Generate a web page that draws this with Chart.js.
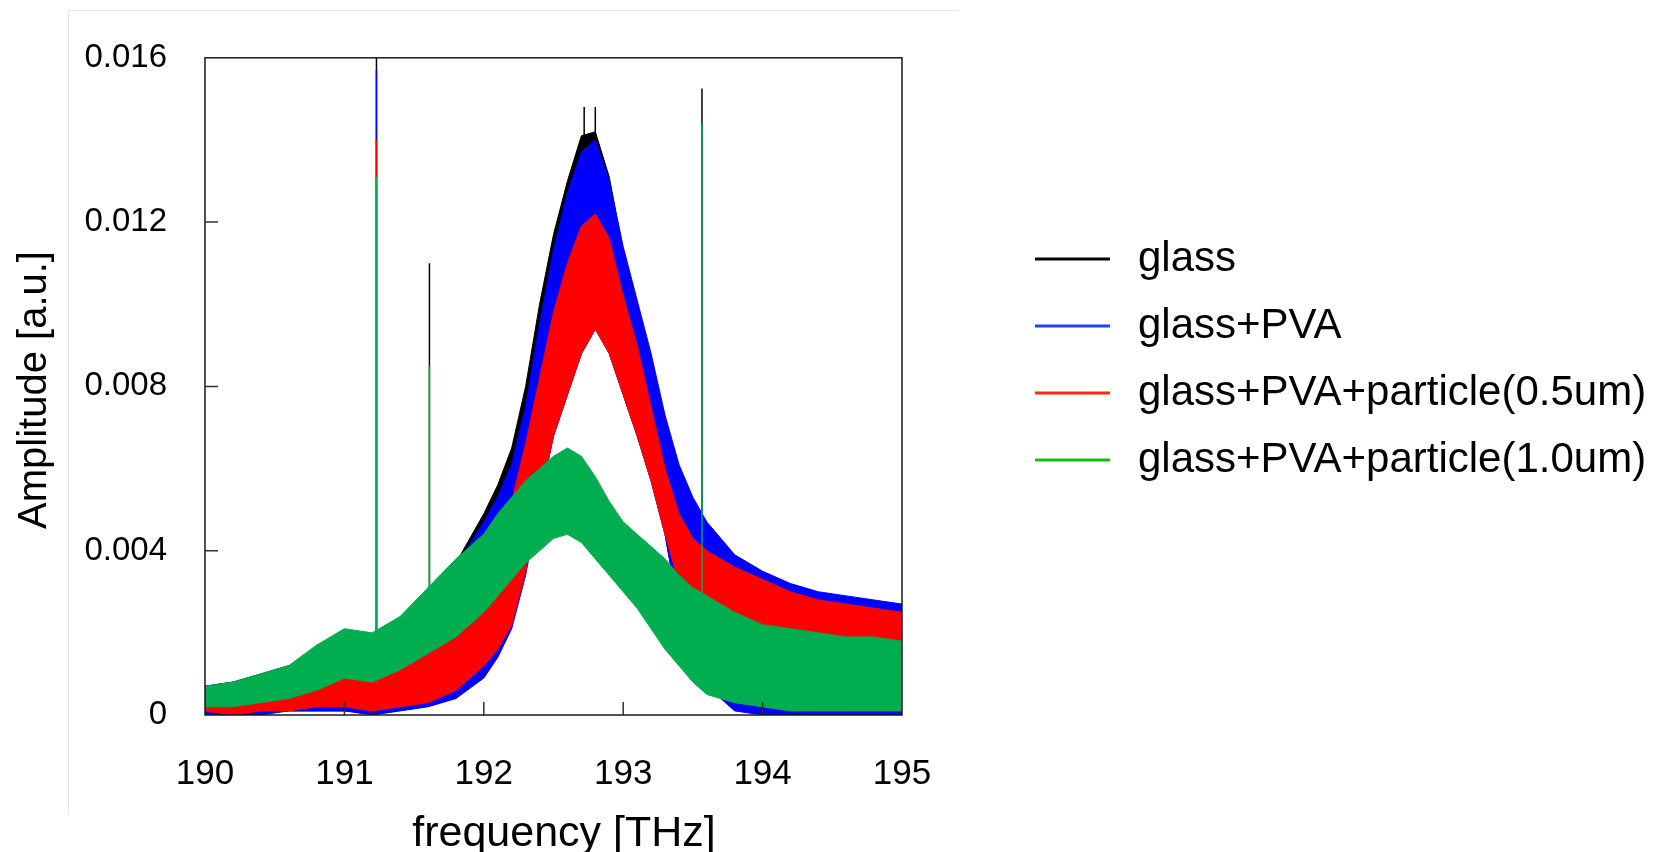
<!DOCTYPE html>
<html>
<head>
<meta charset="utf-8">
<script src="https://cdn.jsdelivr.net/npm/chart.js@4.4.1/dist/chart.umd.min.js"></script>
<style>
  html, body { margin: 0; padding: 0; background: #fff; }
  canvas { display: block; }
</style>
</head>
<body>
<canvas id="myChart" width="1660" height="852"></canvas>
<script>
let freq = [190, 190.2, 190.4, 190.6, 190.8, 191, 191.2, 191.4, 191.6, 191.8, 192, 192.1, 192.2, 192.3, 192.4, 192.5, 192.6, 192.7, 192.8, 192.9, 193, 193.1, 193.2, 193.3, 193.4, 193.5, 193.6, 193.8, 194, 194.2, 194.4, 194.6, 194.8, 195];

// upper / lower edge of each noisy trace
let glassHi = [0.0007, 0.0008, 0.0010, 0.0012, 0.0014, 0.0016, 0.0018, 0.0022, 0.0028, 0.0037, 0.0049, 0.0056, 0.0065, 0.0080, 0.0100, 0.0117, 0.0130, 0.0141, 0.0142, 0.0131, 0.0113, 0.0099, 0.0085, 0.0070, 0.0058, 0.0050, 0.0045, 0.0037, 0.0034, 0.0031, 0.0029, 0.0028, 0.0027, 0.0026];
let glassLo = [0.0000, 0.0000, 0.0001, 0.0001, 0.0001, 0.0001, 0.0001, 0.0002, 0.0003, 0.0005, 0.0010, 0.0015, 0.0022, 0.0035, 0.0052, 0.0068, 0.0078, 0.0088, 0.0094, 0.0088, 0.0078, 0.0068, 0.0057, 0.0044, 0.0025, 0.0015, 0.0008, 0.0002, 0.0001, 0.0001, 0.0001, 0.0000, 0.0001, 0.0000];
let pvaHi = [0.0007, 0.0008, 0.0009, 0.0011, 0.0013, 0.0015, 0.0017, 0.0021, 0.0027, 0.0036, 0.0047, 0.0053, 0.0061, 0.0075, 0.0095, 0.0113, 0.0127, 0.0137, 0.0140, 0.0130, 0.0114, 0.0101, 0.0088, 0.0073, 0.0061, 0.0053, 0.0047, 0.0039, 0.0035, 0.0032, 0.0030, 0.0029, 0.0028, 0.0027];
let pvaLo = [0.0000, 0.0000, 0.0000, 0.0001, 0.0001, 0.0001, 0.0000, 0.0001, 0.0002, 0.0004, 0.0009, 0.0014, 0.0021, 0.0034, 0.0052, 0.0068, 0.0078, 0.0088, 0.0094, 0.0088, 0.0078, 0.0068, 0.0057, 0.0044, 0.0025, 0.0014, 0.0007, 0.0001, 0.0000, 0.0000, 0.0000, 0.0000, 0.0000, 0.0000];
let p05Hi = [0.0006, 0.0007, 0.0007, 0.0008, 0.0010, 0.0011, 0.0009, 0.0014, 0.0020, 0.0027, 0.0036, 0.0042, 0.0052, 0.0066, 0.0082, 0.0098, 0.0110, 0.0119, 0.0122, 0.0116, 0.0102, 0.0090, 0.0075, 0.0060, 0.0049, 0.0043, 0.0040, 0.0036, 0.0033, 0.0030, 0.0028, 0.0027, 0.0026, 0.0025];
let p05Lo = [0.0001, 0.0000, 0.0001, 0.0001, 0.0002, 0.0002, 0.0001, 0.0002, 0.0003, 0.0006, 0.0012, 0.0016, 0.0022, 0.0035, 0.0052, 0.0068, 0.0078, 0.0088, 0.0094, 0.0088, 0.0078, 0.0068, 0.0057, 0.0044, 0.0032, 0.0026, 0.0023, 0.0021, 0.0019, 0.0017, 0.0016, 0.0016, 0.0015, 0.0015];
let p10Hi = [0.0007, 0.0008, 0.0010, 0.0012, 0.0017, 0.0021, 0.0020, 0.0024, 0.0031, 0.0038, 0.0044, 0.0049, 0.0053, 0.0057, 0.0060, 0.0063, 0.0065, 0.0063, 0.0058, 0.0052, 0.0047, 0.0044, 0.0041, 0.0038, 0.0034, 0.0031, 0.0029, 0.0025, 0.0022, 0.0021, 0.0020, 0.0019, 0.0019, 0.0018];
let p10Lo = [0.0002, 0.0002, 0.0003, 0.0004, 0.0006, 0.0009, 0.0008, 0.0011, 0.0015, 0.0019, 0.0025, 0.0029, 0.0033, 0.0037, 0.0040, 0.0043, 0.0044, 0.0042, 0.0038, 0.0034, 0.0030, 0.0026, 0.0021, 0.0016, 0.0012, 0.0008, 0.0005, 0.0003, 0.0002, 0.0001, 0.0001, 0.0001, 0.0001, 0.0001];

// narrow spikes: where they stand, where they start, how high each trace goes (null = none)
let spikeFreq = [191.23, 191.61, 192.72, 192.8, 193.565];
let spikeBase = [0.002, 0.002, 0.013, 0.013, 0.002];
let glassSpike = [0.0165, 0.0110, 0.0148, 0.0148, 0.01525];
let pvaSpike = [0.0157, null, null, null, null];
let p05Spike = [0.0140, null, null, null, null];
let p10Spike = [0.0131, 0.0085, null, null, 0.0144];

let labels1 = ['glass', 'glass+PVA', 'glass+PVA+particle(0.5um)', 'glass+PVA+particle(1.0um)'];
let colors1 = ['#000000', '#0000ff', '#ff0000', '#00ad4f'];
let legendColors = ['#000000', '#1a44ff', '#ff2a10', '#12bf12'];

let xTicks = [190, 191, 192, 193, 194, 195];
let yTicks = [0, 0.004, 0.008, 0.012, 0.016];

let fontFam = '"Liberation Sans", Arial, sans-serif';

let series = [
  {hi: glassHi, lo: glassLo, spike: glassSpike},
  {hi: pvaHi, lo: pvaLo, spike: pvaSpike},
  {hi: p05Hi, lo: p05Lo, spike: p05Spike},
  {hi: p10Hi, lo: p10Lo, spike: p10Spike}
];

let datasets = [];
series.forEach((s, i) => {
  let idx = datasets.length;
  datasets.push({
    label: labels1[i],
    data: freq.map((f, k) => ({x: f, y: s.hi[k]})),
    borderColor: colors1[i],
    backgroundColor: colors1[i],
    fill: idx + 1,
    order: 3 - i
  });
  datasets.push({
    label: labels1[i] + ' (lower)',
    data: freq.map((f, k) => ({x: f, y: s.lo[k]})),
    borderColor: colors1[i],
    fill: false,
    order: 3 - i
  });
  let pts = [];
  spikeFreq.forEach((f, k) => {
    if (s.spike[k] === null) return;
    pts.push({x: f, y: spikeBase[k]}, {x: f, y: s.spike[k]}, {x: f, y: null});
  });
  datasets.push({
    label: labels1[i] + ' (spikes)',
    data: pts,
    borderColor: colors1[i],
    borderWidth: 1.5,
    fill: false,
    spanGaps: false,
    order: 3 - i
  });
});

// frame, inner ticks, axis titles and legend
let decor = {
  id: 'decor',
  beforeDraw(chart) {
    let ctx = chart.ctx;
    ctx.save();
    ctx.strokeStyle = '#e6e6e6';
    ctx.lineWidth = 1;
    ctx.beginPath();
    ctx.moveTo(68.5, 815);
    ctx.lineTo(68.5, 10.5);
    ctx.lineTo(958, 10.5);
    ctx.stroke();
    ctx.restore();
  },
  afterDraw(chart) {
    let ctx = chart.ctx;
    let a = chart.chartArea;
    let x = chart.scales.x, y = chart.scales.y;
    ctx.save();
    ctx.strokeStyle = '#333';
    ctx.lineWidth = 1.5;
    ctx.beginPath();
    yTicks.slice(1, -1).forEach(v => {
      let py = y.getPixelForValue(v);
      ctx.moveTo(a.left, py);
      ctx.lineTo(a.left + 13, py);
    });
    xTicks.slice(1, -1).forEach(v => {
      let px = x.getPixelForValue(v);
      ctx.moveTo(px, a.bottom);
      ctx.lineTo(px, a.bottom - 13);
    });
    ctx.stroke();

    ctx.strokeStyle = '#1a1a1a';
    ctx.lineWidth = 1.5;
    ctx.strokeRect(a.left, a.top, a.right - a.left, a.bottom - a.top);

    ctx.fillStyle = '#000';
    ctx.textAlign = 'center';
    ctx.textBaseline = 'alphabetic';
    ctx.font = '43px ' + fontFam;
    ctx.fillText('frequency [THz]', 564, 846);

    ctx.save();
    ctx.translate(46, 390);
    ctx.rotate(-Math.PI / 2);
    ctx.font = '40px ' + fontFam;
    ctx.fillText('Amplitude [a.u.]', 0, 0);
    ctx.restore();

    ctx.textAlign = 'left';
    ctx.font = '42px ' + fontFam;
    labels1.forEach((t, i) => {
      let ly = 259 + i * 67;
      ctx.strokeStyle = legendColors[i];
      ctx.lineWidth = 3;
      ctx.beginPath();
      ctx.moveTo(1035, ly);
      ctx.lineTo(1110, ly);
      ctx.stroke();
      ctx.fillText(t, 1138, ly + 12);
    });
    ctx.restore();
  }
};

let myChart1 = document.getElementById('myChart').getContext('2d');

let Chart1 = new Chart(myChart1, {
  type: 'line',
  data: {datasets: datasets},
  plugins: [decor],
  options: {
    responsive: false,
    animation: false,
    devicePixelRatio: 1,
    layout: {padding: {left: 0, top: 52, right: 758, bottom: 0}},
    plugins: {legend: {display: false}, tooltip: {enabled: false}},
    elements: {point: {radius: 0}, line: {tension: 0, borderWidth: 1}},
    scales: {
      x: {
        type: 'linear', min: 190, max: 195,
        grid: {display: false, drawTicks: false},
        border: {display: false},
        afterBuildTicks: s => { s.ticks = xTicks.map(v => ({value: v})); },
        afterFit: s => { s.height = 137; },
        ticks: {color: '#000', font: {family: fontFam, size: 35}, padding: 38, maxRotation: 0, autoSkip: false}
      },
      y: {
        min: 0, max: 0.016,
        grid: {display: false, drawTicks: false},
        border: {display: false},
        afterBuildTicks: s => { s.ticks = yTicks.map(v => ({value: v})); },
        afterFit: s => { s.width = 205; },
        ticks: {
          color: '#000', font: {family: fontFam, size: 33}, padding: 38,
          callback: v => v === 0 ? '0' : v.toFixed(3)
        }
      }
    }
  }
});
</script>
</body>
</html>
